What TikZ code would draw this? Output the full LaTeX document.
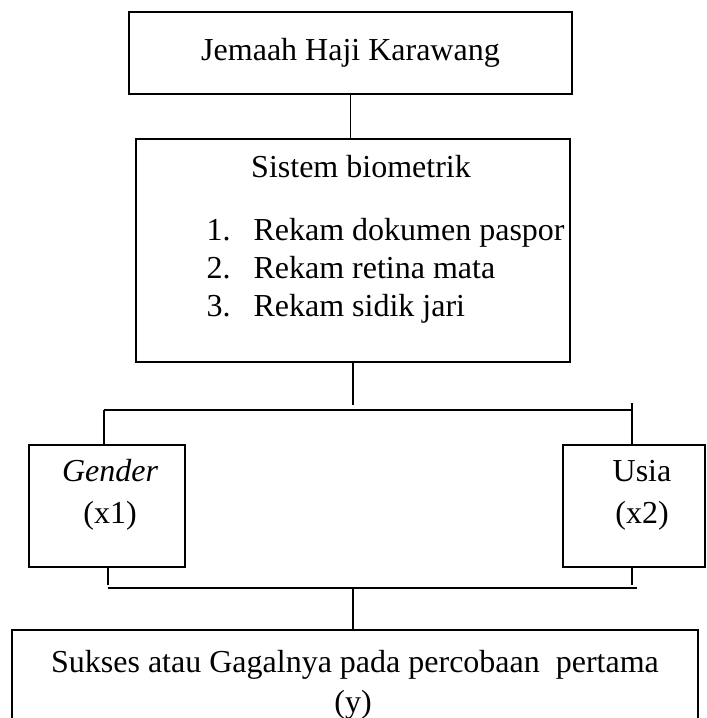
\documentclass[tikz,border=0pt]{standalone}
\usepackage{fontspec}
\setmainfont{Liberation Serif}
\begin{document}
\begin{tikzpicture}[x=0.375pt, y=-0.375pt,
  boite/.style={draw=moncolor, line width=0.75pt, inner sep=0pt},
  lien/.style={draw=moncolor, line width=0.4pt},
  texte/.style={text=moncolor, inner sep=0pt, font=\fontsize{12}{14}\selectfont}]
  % Définir une couleur pour le schéma
  \definecolor{moncolor}{RGB}{0,0,0}
  \useasboundingbox (0,0) rectangle (706,718);
  \clip (0,0) rectangle (706,718);

  % Boite du haut
  \node[boite, texte, minimum width=166.1pt, minimum height=30.75pt] at (350.5,53) (jemaah) {Jemaah Haji Karawang};

  % Boite du systeme biometrique
  \node[boite, minimum width=162.75pt, minimum height=83.6pt] at (353,250.5) (biometrik) {};
  \node[texte, anchor=base] at (361,178) (titrebio) {Sistem biometrik};
  \node[texte, anchor=base west] at (206,241) (num1) {1.};
  \node[texte, anchor=base west] at (253,241) (item1) {Rekam dokumen paspor};
  \node[texte, anchor=base west] at (206,279) (num2) {2.};
  \node[texte, anchor=base west] at (253,279) (item2) {Rekam retina mata};
  \node[texte, anchor=base west] at (206,317) (num3) {3.};
  \node[texte, anchor=base west] at (253,317) (item3) {Rekam sidik jari};

  % Les deux variables
  \node[boite, minimum width=58.5pt, minimum height=45.75pt] at (107,506) (gender) {};
  \node[texte, anchor=base] at (110,481) (gendertxt) {\itshape Gender};
  \node[texte, anchor=base] at (110,523) (x1) {(x1)};
  \node[boite, minimum width=53.25pt, minimum height=45.75pt] at (634,506) (usia) {};
  \node[texte, anchor=base] at (642,481) (usiatxt) {Usia};
  \node[texte, anchor=base] at (642,523) (x2) {(x2)};

  % Boite du bas
  \node[boite, minimum width=257.25pt, minimum height=41.25pt] at (355,685) (sukses) {};
  \node[texte, anchor=base] at (355,672) (suksestxt) {Sukses atau Gagalnya pada percobaan\ \ pertama};
  \node[texte, anchor=base] at (353,712) (y) {(y)};

  % Lignes du haut
  \draw[lien] (jemaah.south) -- (jemaah.south |- biometrik.north);
  \coordinate (finbio) at (353,405);
  \draw[lien] (biometrik.south) -- (finbio);
  \coordinate (barreG) at (104,410);
  \coordinate (barreD) at (632,410);
  \draw[lien] (barreG) -- (barreD);
  \draw[lien] (barreG) -- (barreG |- gender.north);
  \coordinate (hautD) at (632,403);
  \draw[lien] (hautD) -- (hautD |- usia.north);

  % Lignes du bas
  \coordinate (basG) at (108,585);
  \coordinate (basD) at (632,585);
  \draw[lien] (gender.south -| basG) -- (basG);
  \draw[lien] (usia.south -| basD) -- (basD);
  \coordinate (barreBG) at (108,588);
  \coordinate (barreBD) at (637,588);
  \draw[lien] (barreBG) -- (barreBD);
  \coordinate (descente) at (353,588);
  \draw[lien] (descente) -- (descente |- sukses.north);
\end{tikzpicture}
\end{document}
